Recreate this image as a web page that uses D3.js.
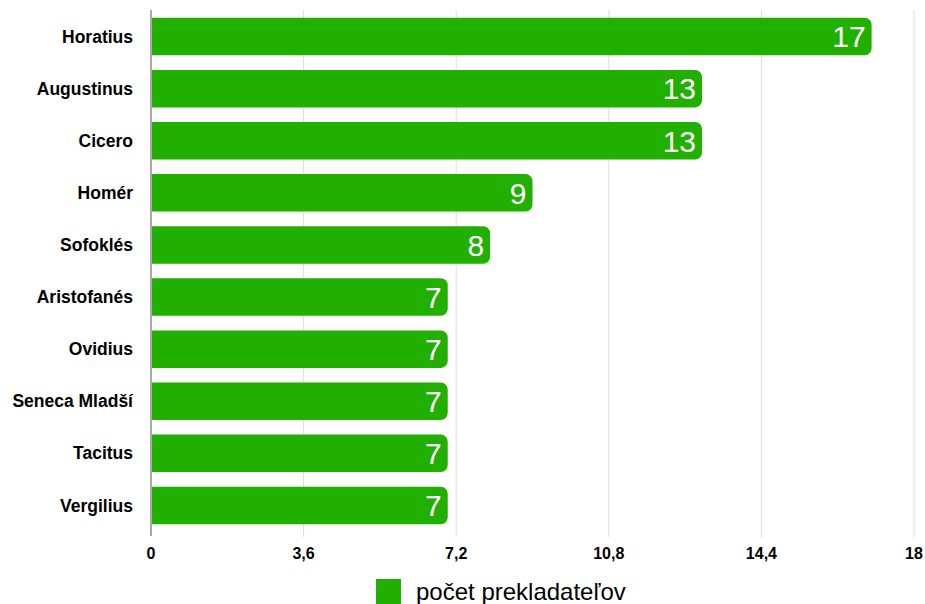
<!DOCTYPE html>
<head>
    <meta charset="utf-8">
    <title>Počet prekladateľov</title>
    <script src="https://d3js.org/d3.v7.min.js"></script>
    <style>
    body { margin: 0; background: #ffffff; }
    text { font-family: "Liberation Sans", Arial, Helvetica, sans-serif; }
    </style>
</head>
<body>
<script>
var authors = ["Horatius", "Augustinus", "Cicero", "Homér", "Sofoklés",
               "Aristofanés", "Ovidius", "Seneca Mladší", "Tacitus", "Vergilius"];
var counts = [17, 13, 13, 9, 8, 7, 7, 7, 7, 7];
var ticks = [0, 3.6, 7.2, 10.8, 14.4, 18];
var seriesName = "počet prekladateľov";

var width = 925, height = 604,
    plotLeft = 151, plotRight = 914, plotTop = 10, plotBottom = 532,
    green = "#21b000";

var svg = d3.select("body").append("svg")
    .attr("width", width)
    .attr("height", height);

var x = d3.scaleLinear().domain([0, 18]).range([plotLeft, plotRight]);
var y = d3.scaleBand().domain(authors).range([plotTop, plotBottom]).paddingInner(0.28).paddingOuter(0.15);

// grid
svg.append("g").selectAll("line")
    .data(ticks.slice(1))
    .enter().append("line")
    .attr("x1", function(d) { return x(d); })
    .attr("x2", function(d) { return x(d); })
    .attr("y1", plotTop)
    .attr("y2", plotBottom + 5)
    .attr("stroke", "#dcdcdc")
    .attr("stroke-width", 1);

// bars: square on the left, rounded on the right
function barPath(d, i) {
    var x0 = x(0) + 1, x1 = x(d), y0 = y(authors[i]), h = y.bandwidth(), r = 7;
    return "M" + x0 + "," + y0 +
        "H" + (x1 - r) +
        "A" + r + "," + r + " 0 0 1 " + x1 + "," + (y0 + r) +
        "V" + (y0 + h - r) +
        "A" + r + "," + r + " 0 0 1 " + (x1 - r) + "," + (y0 + h) +
        "H" + x0 + "Z";
}

svg.append("g").selectAll("path")
    .data(counts)
    .enter().append("path")
    .attr("d", barPath)
    .attr("fill", green);

// value labels
svg.append("g").selectAll("text")
    .data(counts)
    .enter().append("text")
    .attr("x", function(d) { return x(d) - 6; })
    .attr("y", function(d, i) { return y(authors[i]) + y.bandwidth() / 2; })
    .attr("dy", "0.36em")
    .attr("text-anchor", "end")
    .attr("fill", "#ffffff")
    .style("font-size", "30px")
    .text(function(d) { return d; });

// axis line
svg.append("line")
    .attr("x1", plotLeft).attr("x2", plotLeft)
    .attr("y1", plotTop).attr("y2", plotBottom + 4)
    .attr("stroke", "#8c8c8c")
    .attr("stroke-width", 1.5);

// category labels
svg.append("g").selectAll("text")
    .data(authors)
    .enter().append("text")
    .attr("x", 133)
    .attr("y", function(d) { return y(d) + y.bandwidth() / 2; })
    .attr("dy", "0.35em")
    .attr("text-anchor", "end")
    .style("font-size", "17.5px")
    .style("font-weight", "bold")
    .text(function(d) { return d; });

// tick labels
var fmt = function(d) { return String(d).replace(".", ","); };
svg.append("g").selectAll("text")
    .data(ticks)
    .enter().append("text")
    .attr("x", function(d) { return x(d); })
    .attr("y", 559)
    .attr("text-anchor", "middle")
    .style("font-size", "16px")
    .style("font-weight", "bold")
    .text(fmt);

// legend
svg.append("rect")
    .attr("x", 376).attr("y", 579)
    .attr("width", 25).attr("height", 25)
    .attr("fill", green);
svg.append("text")
    .attr("x", 416).attr("y", 600)
    .style("font-size", "24px")
    .text(seriesName);
</script>
</body>
